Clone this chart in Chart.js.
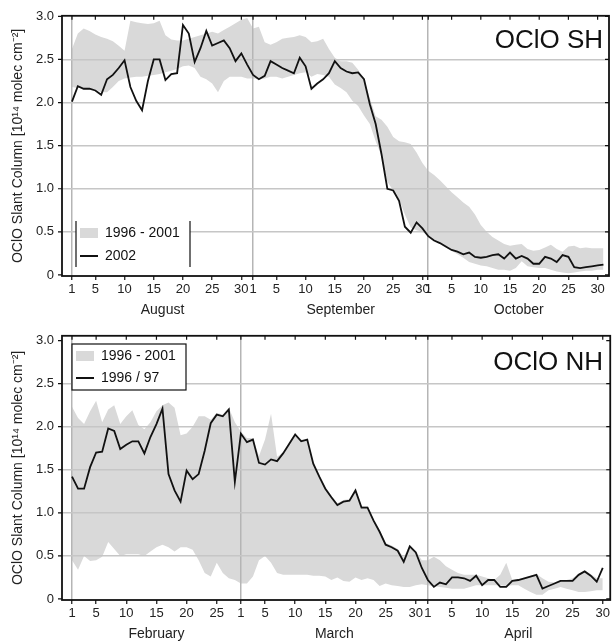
<!DOCTYPE html>
<html>
<head>
<meta charset="utf-8">
<script src="https://cdn.jsdelivr.net/npm/chart.js@4.4.1/dist/chart.umd.min.js"></script>
<style>
body { margin: 0; background: #fff; }
canvas { display: block; }
</style>
</head>
<body>
<canvas id="sh" width="612" height="320"></canvas>
<canvas id="nh" width="612" height="321"></canvas>
<script>
var dayTicks = [1, 5, 10, 15, 20, 25, 30];
var yTicks = [0, 0.5, 1.0, 1.5, 2.0, 2.5, 3.0];

// southern hemisphere, Aug 1 .. Oct 31
var shMonths = ['August', 'September', 'October'];
var shMonthLen = [31, 30, 31];
var sh2002 = [
	2.01, 2.19, 2.16, 2.16, 2.14, 2.09, 2.27, 2.32, 2.40, 2.49, 2.18, 2.02, 1.91, 2.25, 2.50, 2.50, 2.26, 2.33, 2.34, 2.90, 2.80, 2.47, 2.63, 2.83, 2.66, 2.69, 2.72, 2.63, 2.48, 2.57, 2.44,
	2.32, 2.27, 2.31, 2.48, 2.44, 2.40, 2.37, 2.34, 2.52, 2.42, 2.16, 2.22, 2.27, 2.34, 2.48, 2.40, 2.36, 2.34, 2.35, 2.27, 1.98, 1.75, 1.40, 1.00, 0.98, 0.86, 0.56, 0.49, 0.61, 0.54,
	0.45, 0.40, 0.37, 0.33, 0.29, 0.27, 0.24, 0.26, 0.21, 0.20, 0.21, 0.23, 0.24, 0.19, 0.26, 0.19, 0.22, 0.19, 0.13, 0.13, 0.21, 0.19, 0.15, 0.23, 0.21, 0.09, 0.08, 0.09, 0.10, 0.11, 0.12
];
var shMax = [
	2.62, 2.80, 2.86, 2.83, 2.79, 2.76, 2.74, 2.71, 2.66, 2.60, 2.95, 2.93, 2.92, 2.91, 2.92, 2.95, 2.78, 2.73, 2.72, 2.72, 2.74, 2.76, 2.78, 2.80, 2.82, 2.80, 2.84, 2.88, 2.92, 2.96, 2.98,
	2.86, 2.88, 2.70, 2.67, 2.70, 2.74, 2.75, 2.76, 2.78, 2.76, 2.70, 2.71, 2.74, 2.62, 2.52, 2.48, 2.48, 2.46, 2.38, 2.27, 2.05, 1.84, 1.80, 1.72, 1.60, 1.55, 1.54, 1.52, 1.42, 1.30,
	1.21, 1.16, 1.10, 1.03, 0.96, 0.90, 0.84, 0.79, 0.70, 0.58, 0.50, 0.44, 0.40, 0.36, 0.34, 0.35, 0.36, 0.30, 0.28, 0.29, 0.32, 0.35, 0.30, 0.27, 0.33, 0.34, 0.31, 0.32, 0.31, 0.31, 0.31
];
var shMin = [
	2.18, 2.17, 2.17, 2.16, 2.15, 2.12, 2.12, 2.18, 2.25, 2.28, 2.29, 2.30, 2.30, 2.31, 2.32, 2.33, 2.35, 2.37, 2.39, 2.42, 2.43, 2.40, 2.30, 2.27, 2.22, 2.12, 2.25, 2.30, 2.30, 2.30, 2.28,
	2.28, 2.27, 2.28, 2.30, 2.30, 2.28, 2.30, 2.32, 2.34, 2.35, 2.30, 2.33, 2.32, 2.30, 2.21, 2.17, 2.12, 2.02, 1.96, 1.85, 1.75, 1.55, 1.38, 1.08, 0.98, 0.88, 0.70, 0.55, 0.52, 0.50,
	0.45, 0.40, 0.36, 0.32, 0.28, 0.24, 0.20, 0.15, 0.13, 0.11, 0.10, 0.08, 0.06, 0.06, 0.05, 0.08, 0.16, 0.10, 0.09, 0.08, 0.08, 0.06, 0.04, 0.03, 0.02, 0.03, 0.04, 0.05, 0.05, 0.06, 0.06
];

// northern hemisphere, Feb 1 .. Apr 30
var nhMonths = ['February', 'March', 'April'];
var nhMonthLen = [28, 31, 30];
var nh9697 = [
	1.42, 1.28, 1.28, 1.53, 1.70, 1.71, 1.98, 1.95, 1.74, 1.79, 1.83, 1.83, 1.69, 1.88, 2.03, 2.21, 1.45, 1.26, 1.13, 1.49, 1.39, 1.45, 1.72, 2.04, 2.14, 2.12, 2.20, 1.36,
	1.92, 1.82, 1.85, 1.58, 1.56, 1.62, 1.60, 1.69, 1.80, 1.91, 1.83, 1.85, 1.57, 1.42, 1.28, 1.18, 1.09, 1.13, 1.14, 1.26, 1.06, 1.06, 0.91, 0.78, 0.63, 0.60, 0.56, 0.43, 0.61, 0.54, 0.36,
	0.22, 0.14, 0.19, 0.17, 0.25, 0.25, 0.24, 0.21, 0.27, 0.16, 0.22, 0.22, 0.14, 0.14, 0.21, 0.22, 0.24, 0.26, 0.28, 0.12, 0.15, 0.18, 0.21, 0.21, 0.21, 0.28, 0.32, 0.27, 0.20, 0.36
];
var nhMax = [
	2.23, 2.10, 2.03, 2.18, 2.30, 2.05, 2.20, 2.25, 2.03, 2.12, 2.19, 2.02, 1.97, 2.05, 2.18, 2.25, 2.28, 2.22, 1.90, 1.92, 2.00, 2.12, 2.12, 2.08, 2.16, 2.14, 2.22, 2.05,
	1.94, 1.87, 1.87, 1.66, 1.85, 2.15, 1.65, 1.70, 1.81, 1.92, 1.85, 1.86, 1.59, 1.44, 1.30, 1.20, 1.11, 1.15, 1.16, 1.28, 1.08, 1.08, 0.93, 0.80, 0.65, 0.62, 0.58, 0.48, 0.63, 0.56, 0.45,
	0.45, 0.49, 0.45, 0.38, 0.34, 0.30, 0.28, 0.28, 0.28, 0.26, 0.24, 0.22, 0.28, 0.42, 0.22, 0.23, 0.25, 0.27, 0.29, 0.24, 0.20, 0.19, 0.22, 0.22, 0.24, 0.29, 0.33, 0.29, 0.24, 0.24
];
var nhMin = [
	0.45, 0.34, 0.50, 0.44, 0.45, 0.49, 0.66, 0.58, 0.50, 0.52, 0.52, 0.52, 0.50, 0.55, 0.60, 0.63, 0.60, 0.55, 0.60, 0.60, 0.57, 0.45, 0.30, 0.26, 0.42, 0.30, 0.24, 0.22,
	0.18, 0.18, 0.26, 0.45, 0.50, 0.42, 0.30, 0.28, 0.28, 0.28, 0.28, 0.28, 0.27, 0.27, 0.26, 0.22, 0.25, 0.21, 0.20, 0.25, 0.22, 0.24, 0.22, 0.15, 0.18, 0.16, 0.15, 0.14, 0.14, 0.16, 0.17,
	0.16, 0.15, 0.14, 0.13, 0.12, 0.12, 0.12, 0.14, 0.16, 0.16, 0.16, 0.16, 0.16, 0.15, 0.16, 0.16, 0.12, 0.08, 0.05, 0.05, 0.10, 0.12, 0.14, 0.12, 0.10, 0.08, 0.08, 0.09, 0.10, 0.10
];

var fontFam = '"Liberation Sans", Arial, Helvetica, sans-serif';
var yTitle = 'OClO Slant Column [10\u00b9\u2074 molec cm\u207b\u00b2]';

function toXY(arr) {
	return arr.map(function(v, i) { return {x: i, y: v}; });
}

function framePlugin(o) {
	return {
		id: 'frame',
		afterDraw: function(chart) {
			var a = chart.chartArea, c = chart.ctx;
			var xs = chart.scales.x, ys = chart.scales.y;
			c.save();
			c.strokeStyle = '#111';
			c.lineWidth = 1.2;
			xs.ticks.forEach(function(t) {
				var p = xs.getPixelForValue(t.value);
				c.beginPath(); c.moveTo(p, a.top); c.lineTo(p, a.top + 4); c.stroke();
			});
			ys.ticks.forEach(function(t) {
				var p = ys.getPixelForValue(t.value);
				c.beginPath();
				c.moveTo(a.left - 4, p); c.lineTo(a.left, p);
				c.moveTo(a.right - 4, p); c.lineTo(a.right, p);
				c.stroke();
			});
			c.lineWidth = 1.8;
			c.strokeRect(a.left, a.top, a.right - a.left, a.bottom - a.top);

			c.fillStyle = '#111';
			c.font = '26px ' + fontFam;
			c.textAlign = 'right';
			c.textBaseline = 'alphabetic';
			c.fillText(o.title, 603, o.titleY);

			var L = o.legend;
			c.fillStyle = '#fff';
			c.fillRect(L.x, L.y, L.w, L.h);
			c.lineWidth = 1.2;
			c.strokeStyle = '#111';
			if (L.full) {
				c.strokeRect(L.x, L.y, L.w, L.h);
			} else {
				c.beginPath();
				c.moveTo(L.x, L.y); c.lineTo(L.x, L.y + L.h);
				c.moveTo(L.x + L.w, L.y); c.lineTo(L.x + L.w, L.y + L.h);
				c.stroke();
			}
			c.fillStyle = '#d9d9d9';
			c.fillRect(L.x + 4, L.row1 - 5, 18, 10);
			c.lineWidth = 2;
			c.beginPath(); c.moveTo(L.x + 4, L.row2); c.lineTo(L.x + 22, L.row2); c.stroke();
			c.fillStyle = '#111';
			c.font = '14px ' + fontFam;
			c.textAlign = 'left';
			c.textBaseline = 'middle';
			c.fillText(o.bandLabel, L.x + 29, L.row1);
			c.fillText(o.lineLabel, L.x + 29, L.row2);
			c.restore();
		}
	};
}

function drawChart(id, o) {
	var starts = [0];
	for (var i = 1; i < o.monthLen.length; i++) starts.push(starts[i - 1] + o.monthLen[i - 1]);
	var xTickVals = [];
	var mids = [];
	for (var m = 0; m < starts.length; m++) {
		dayTicks.forEach(function(d) {
			if (d <= o.monthLen[m]) xTickVals.push(starts[m] + d - 1);
		});
		mids.push(starts[m] + o.monthLen[m] / 2);
	}
	function dayOf(v) {
		for (var k = starts.length - 1; k >= 0; k--) if (v >= starts[k]) return v - starts[k] + 1;
		return '';
	}

	new Chart(document.getElementById(id), {
		type: 'line',
		data: {
			datasets: [
				{label: o.lineLabel, data: toXY(o.line), borderColor: '#111', borderWidth: 1.8, pointRadius: 0, fill: false, tension: 0},
				{label: o.bandLabel, data: toXY(o.max), borderWidth: 0, borderColor: 'rgba(0,0,0,0)', pointRadius: 0, backgroundColor: '#d9d9d9', fill: '+1'},
				{label: 'min', data: toXY(o.min), borderWidth: 0, borderColor: 'rgba(0,0,0,0)', pointRadius: 0, fill: false}
			]
		},
		options: {
			responsive: false,
			animation: false,
			devicePixelRatio: 1,
			layout: {padding: {top: o.top, right: o.right, left: 0, bottom: 0}},
			plugins: {
				legend: {display: false},
				tooltip: {enabled: false},
				filler: {drawTime: 'beforeDraw'}
			},
			scales: {
				x: {
					type: 'linear', position: 'bottom', min: o.xMin, max: o.xMax, weight: 0,
					afterBuildTicks: function(s) { s.ticks = xTickVals.map(function(v) { return {value: v}; }); },
					afterFit: function(s) { s.height = o.xH; },
					ticks: {
						autoSkip: false, maxRotation: 0, padding: 2, color: '#222',
						font: {family: fontFam, size: 13},
						callback: function(v) { return String(dayOf(v)); }
					},
					grid: {
						color: function(c) { return c.tick && starts.indexOf(c.tick.value) >= 0 ? '#b5b5b5' : 'rgba(0,0,0,0)'; },
						lineWidth: 1.5, tickColor: '#111', tickLength: 4, tickWidth: 1.2
					},
					border: {display: false}
				},
				xm: {
					type: 'linear', position: 'bottom', min: o.xMin, max: o.xMax, weight: 1,
					afterBuildTicks: function(s) { s.ticks = mids.map(function(v) { return {value: v}; }); },
					afterFit: function(s) { s.height = o.xmH; },
					ticks: {
						autoSkip: false, maxRotation: 0, padding: o.xmPad, color: '#222',
						font: {family: fontFam, size: 14},
						callback: function(v) { var k = mids.indexOf(v); return k >= 0 ? o.months[k] : ''; }
					},
					grid: {display: false, drawTicks: false},
					border: {display: false}
				},
				y: {
					type: 'linear', min: o.yMin, max: o.yMax,
					afterBuildTicks: function(s) { s.ticks = yTicks.map(function(v) { return {value: v}; }); },
					afterFit: function(s) { s.width = 62; },
					ticks: {
						padding: 8, color: '#222',
						font: {family: fontFam, size: 13},
						callback: function(v) { return v === 0 ? '0' : v.toFixed(1); }
					},
					grid: {
						color: function(c) { return c.tick && c.tick.value > 0 && c.tick.value < 3 ? '#c6c6c6' : 'rgba(0,0,0,0)'; },
						lineWidth: 1.5, drawTicks: false
					},
					border: {display: false},
					title: {display: true, text: yTitle, color: '#222', font: {family: fontFam, size: 14}, padding: {top: 10, bottom: 0}}
				}
			}
		},
		plugins: [framePlugin(o)]
	});
}

drawChart('sh', {
	months: shMonths, monthLen: shMonthLen,
	line: sh2002, max: shMax, min: shMin,
	lineLabel: '2002', bandLabel: '1996 - 2001', title: 'OClO SH', titleY: 48,
	top: 14, right: 3, xH: 22, xmH: 22, xmPad: 4,
	xMin: -1.71, xMax: 91.95, yMin: -0.012, yMax: 3.006,
	legend: {x: 76, y: 221, w: 114, h: 46, row1: 233, row2: 256, full: false}
});

drawChart('nh', {
	months: nhMonths, monthLen: nhMonthLen,
	line: nh9697, max: nhMax, min: nhMin,
	lineLabel: '1996 / 97', bandLabel: '1996 - 2001', title: 'OClO NH', titleY: 50,
	top: 15, right: 1, xH: 20, xmH: 21, xmPad: 6,
	xMin: -1.66, xMax: 89.24, yMin: -0.012, yMax: 3.055,
	legend: {x: 72, y: 24, w: 114, h: 46, row1: 36, row2: 58, full: true}
});
</script>
</body>
</html>
